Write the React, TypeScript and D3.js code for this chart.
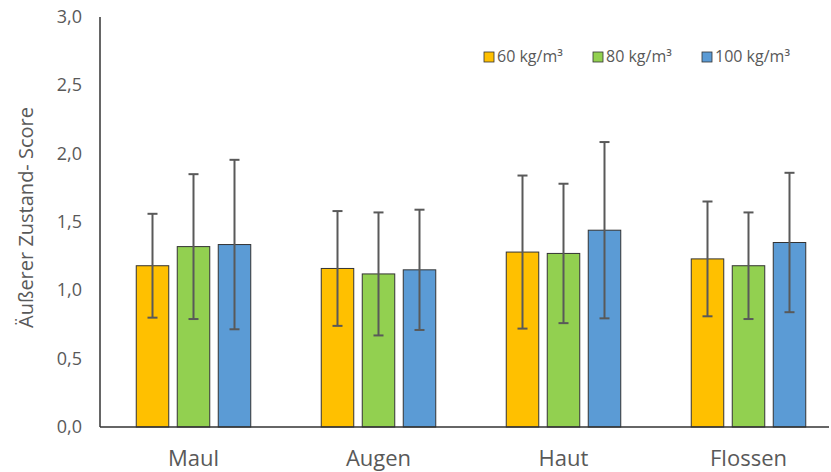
import React from "react";
import * as d3 from "d3";

const categories = ["Maul", "Augen", "Haut", "Flossen"];
const seriesNames = ["60 kg/m³", "80 kg/m³", "100 kg/m³"];
const seriesColors = ["#FFC000", "#92D050", "#5B9BD5"];
const means60 = [1.18, 1.16, 1.28, 1.23];
const means80 = [1.32, 1.12, 1.27, 1.18];
const means100 = [1.335, 1.15, 1.44, 1.35];
const sd60 = [0.38, 0.42, 0.56, 0.42];
const sd80 = [0.53, 0.45, 0.51, 0.39];
const sd100 = [0.62, 0.44, 0.645, 0.51];
const yTicks = [0, 0.5, 1, 1.5, 2, 2.5, 3];

const W = 831;
const H = 472;
const left = 100;
const axisRight = 829;
const top = 17;
const bottom = 427;
const FONT = "'Open Sans', 'Noto Sans', sans-serif";
const TXT = "#595959";

export default function App() {
  const means = [means60, means80, means100];
  const sds = [sd60, sd80, sd100];
  const x = d3.scaleBand<string>().domain(categories).range([101, 841]).paddingInner(0).paddingOuter(0);
  const y = d3.scaleLinear().domain([0, 3]).range([bottom, top]);
  const barW = 32.5;
  const step = 41;
  const fmt = (v: number) => v.toFixed(1).replace(".", ",");

  return (
    <svg width={W} height={H} style={{ position: "absolute", left: 0, top: 0, background: "#fff" }}>
      {yTicks.map((t) => (
        <text key={t} x={82} y={y(t) + 6} textAnchor="end" fontSize={18} fill={TXT} fontFamily={FONT}>
          {fmt(t)}
        </text>
      ))}
      <text
        transform={`translate(33, ${217.5}) rotate(-90)`}
        textAnchor="middle"
        fontSize={20}
        fill={TXT}
        fontFamily={FONT}
      >
        Äußerer Zustand- Score
      </text>
      {categories.map((c, ci) => {
        const cx = (x(c) as number) + x.bandwidth() / 2;
        return (
          <g key={c}>
            {means.map((m, si) => {
              const bx = cx + (si - 1) * step - barW / 2;
              const v = m[ci];
              const s = sds[si][ci];
              const ex = bx + barW / 2;
              return (
                <g key={si}>
                  <rect x={bx} y={y(v)} width={barW} height={y(0) - y(v)} fill={seriesColors[si]} stroke="#333" strokeWidth={1} />
                  <line x1={ex} x2={ex} y1={y(v + s)} y2={y(v - s)} stroke="#595959" strokeWidth={2} />
                  <line x1={ex - 5} x2={ex + 5} y1={y(v + s)} y2={y(v + s)} stroke="#595959" strokeWidth={2} />
                  <line x1={ex - 5} x2={ex + 5} y1={y(v - s)} y2={y(v - s)} stroke="#595959" strokeWidth={2} />
                </g>
              );
            })}
            <text x={cx} y={466} textAnchor="middle" fontSize={22} fill={TXT} fontFamily={FONT}>
              {c}
            </text>
          </g>
        );
      })}
      <line x1={left} x2={left} y1={top} y2={bottom} stroke="#333" strokeWidth={1.5} />
      <line x1={left} x2={axisRight} y1={bottom} y2={bottom} stroke="#333" strokeWidth={1.5} />
      {seriesNames.map((n, i) => {
        const lx = [484, 593, 702][i];
        return (
          <g key={n}>
            <rect x={lx} y={52} width={10} height={10} fill={seriesColors[i]} stroke="#333" strokeWidth={0.8} />
            <text x={lx + 13} y={62} fontSize={16} fill={TXT} fontFamily={FONT}>
              {n}
            </text>
          </g>
        );
      })}
    </svg>
  );
}
